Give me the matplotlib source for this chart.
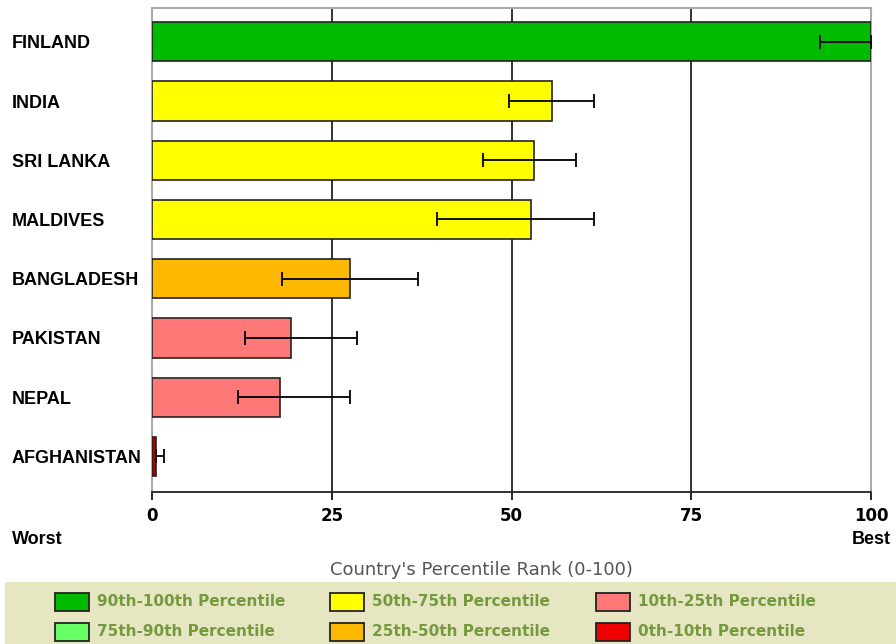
import matplotlib.pyplot as plt
from matplotlib.patches import Rectangle

countries = ['FINLAND', 'INDIA', 'SRI LANKA', 'MALDIVES', 'BANGLADESH',
             'PAKISTAN', 'NEPAL', 'AFGHANISTAN']
ranks = [100.0, 55.6, 53.1, 52.7, 27.6, 19.3, 17.8, 0.5]
err_low = [92.9, 49.7, 46.0, 39.6, 18.1, 13.0, 12.0, 0.5]
err_high = [100.0, 61.5, 59.0, 61.5, 37.0, 28.5, 27.5, 1.7]
bar_colors = ['#00bb00', '#ffff00', '#ffff00', '#ffff00', '#ffb800',
              '#ff7878', '#ff7878', '#aa0000']

legend_labels = ['90th-100th Percentile', '75th-90th Percentile',
                 '50th-75th Percentile', '25th-50th Percentile',
                 '10th-25th Percentile', '0th-10th Percentile']
legend_colors = ['#00bb00', '#66ff66', '#ffff00', '#ffb800', '#ff7878', '#ee0000']
x_ticks = [0, 25, 50, 75, 100]

fig = plt.figure(figsize=(8.96, 6.44), dpi=100)
ax = fig.add_axes([152 / 896, 1 - 492 / 644, 719 / 896, 484 / 644])

ypos = list(range(len(countries)))
ax.barh(ypos, ranks, height=0.66, color=bar_colors, edgecolor='#222222',
        linewidth=1.2, zorder=3)
xerr = [[r - lo for r, lo in zip(ranks, err_low)],
        [hi - r for r, hi in zip(ranks, err_high)]]
ax.errorbar(ranks, ypos, xerr=xerr, fmt='none', ecolor='black',
            elinewidth=1.3, capsize=5, capthick=1.3, zorder=4)

ax.set_xlim(0, 100)
ax.set_ylim(len(countries) - 0.4, -0.57)
ax.set_xticks(x_ticks)
ax.set_xticklabels([str(t) for t in x_ticks], fontsize=12, fontweight='bold',
                   family='DejaVu Sans')
ax.tick_params(axis='x', direction='out', length=6, width=1.2, pad=5)
ax.set_yticks(ypos)
ax.set_yticklabels(countries, fontsize=13, fontweight='bold',
                   family='Liberation Sans', ha='left')
# pad is in points: 140 px from the axis edge to the label start
ax.tick_params(axis='y', length=0, pad=140 * 72 / 100)
for t in x_ticks[1:-1]:
    ax.axvline(t, color='#222222', linewidth=1.3, zorder=1)
for side in ['top', 'left', 'right']:
    ax.spines[side].set_color('#aaaaaa')
    ax.spines[side].set_linewidth(1.5)
ax.spines['bottom'].set_color('#222222')
ax.spines['bottom'].set_linewidth(1.3)

fig.text(12 / 896, 1 - 540 / 644, 'Worst', fontsize=13, fontweight='bold',
         family='Liberation Sans', va='center', ha='left')
fig.text(891 / 896, 1 - 540 / 644, 'Best', fontsize=13, fontweight='bold',
         family='Liberation Sans', va='center', ha='right')
fig.text(481 / 896, 1 - 570 / 644, "Country's Percentile Rank (0-100)",
         fontsize=13, color='#555555', va='center', ha='center')

# legend panel along the bottom
fig.patches.append(Rectangle((5 / 896, 0), 891 / 896, 62 / 644,
                             transform=fig.transFigure, facecolor='#e6e6c3',
                             edgecolor='none', zorder=0))
col_x = [55, 330, 596]
row_y = [602, 632]
for i, (lab, col) in enumerate(zip(legend_labels, legend_colors)):
    cx = col_x[i // 2]
    cy = row_y[i % 2]
    fig.patches.append(Rectangle((cx / 896, 1 - (cy + 9) / 644), 34 / 896, 18 / 644,
                                 transform=fig.transFigure, facecolor=col,
                                 edgecolor='#222222', linewidth=1.3, zorder=1))
    fig.text((cx + 42) / 896, 1 - cy / 644, lab, fontsize=11, fontweight='bold',
             color='#739a3c', va='center', ha='left')

fig.savefig('out.png', dpi=100)
